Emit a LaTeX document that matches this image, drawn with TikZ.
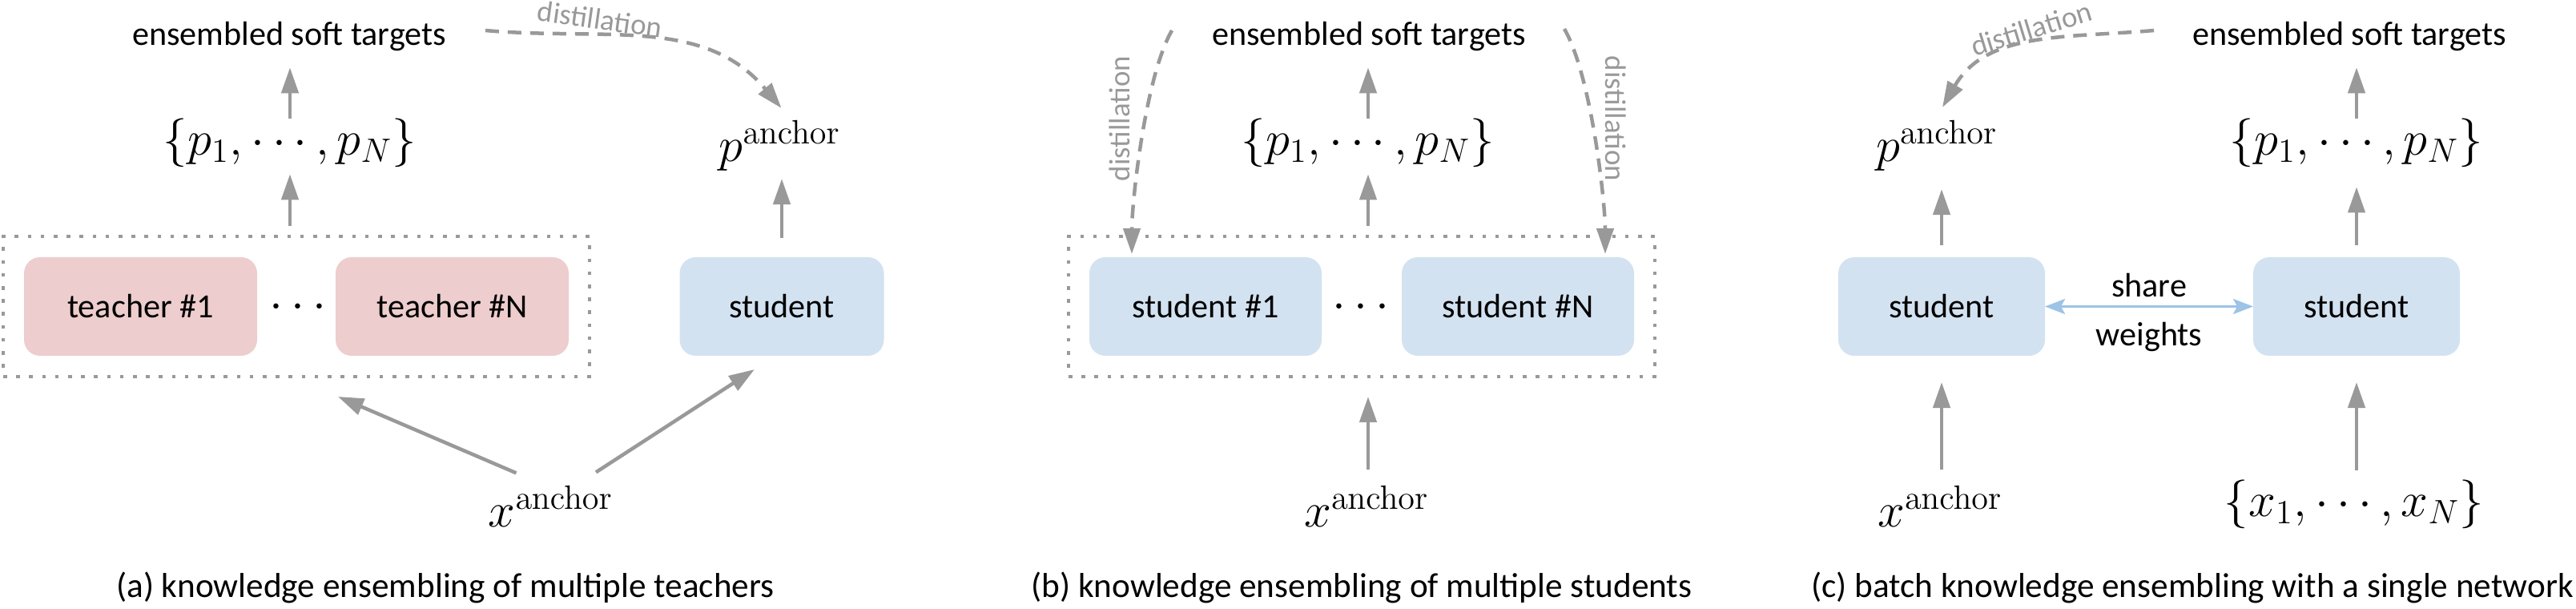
\documentclass[tikz,border=0pt]{standalone}
\usepackage[no-math]{fontspec}
\newfontfamily\calibri{Carlito}
\usetikzlibrary{arrows.meta,calc,fit}
\definecolor{teacherpink}{HTML}{EDCDCD}
\definecolor{studentblue}{HTML}{D3E2F0}
\definecolor{arrowgray}{HTML}{999999}
\definecolor{shareblue}{HTML}{9DC3E6}

\begin{document}
\begin{tikzpicture}[
    every node/.style={inner sep=0pt, outer sep=0pt},
    txt/.style={font=\calibri\fontsize{12}{14}\selectfont},
    captxt/.style={font=\calibri\fontsize{12.3}{14}\selectfont},
    mth/.style={font=\fontsize{17.28}{20}\selectfont},
    dist/.style={font=\calibri\fontsize{10.5}{12}\selectfont, text=arrowgray},
    teacher/.style={txt, fill=teacherpink, rounded corners=0.2cm, minimum width=2.91cm, minimum height=1.23cm},
    student/.style={txt, fill=studentblue, rounded corners=0.2cm, minimum height=1.23cm},
    group/.style={draw=arrowgray, line width=0.045cm, dash pattern=on 0.045cm off 0.117cm, inner sep=0.26cm},
    arr/.style={draw=arrowgray, line width=0.045cm, -{Triangle[length=0.32cm,width=0.21cm]}},
    darr/.style={arr, dash pattern=on 0.17cm off 0.11cm},
    share/.style={draw=shareblue, line width=0.03cm, {Stealth[length=0.25cm,width=0.19cm,inset=0.05cm]}-{Stealth[length=0.25cm,width=0.19cm,inset=0.05cm]}}
  ]
  \useasboundingbox (0,0) rectangle (32.16,7.59);

  % (a)
  \node[txt] (ensA) at (3.61,7.14) {ensembled soft targets};
  \node[mth] (pA) at (3.62,5.81) {$\{p_1,\cdots,p_N\}$};
  \node[teacher] (t1) at (1.755,3.765) {teacher \#1};
  \node[mth] (dotsA) at (3.72,3.75) {$\cdots$};
  \node[teacher] (tN) at (5.645,3.765) {teacher \#N};
  \node[group, fit=(t1)(tN)] (boxA) {};
  \node[student, minimum width=2.55cm] (sA) at (9.76,3.765) {student};
  \node[mth] (paA) at (9.735,5.775) {$p^{\mathrm{anchor}}$};
  \node[mth] (xA) at (6.875,1.27) {$x^{\mathrm{anchor}}$};
  \node[dist, rotate=-8] (distA) at (7.49,7.35) {distillation};
  \node[captxt] (capA) at (5.56,0.26) {(a) knowledge ensembling of multiple teachers};

  \draw[arr, shorten <=0.13cm, shorten >=0.09cm] (pA |- boxA.north) -- (pA.south);
  \draw[arr, shorten >=0.21cm] (pA.north) -- (pA.north |- ensA.south);
  \draw[arr, shorten <=0.24cm, shorten >=0.10cm] (sA.north) -- (sA.north |- paA.south);
  \draw[arr] ($(xA.north)+(-0.43,0.16)$) -- ($(boxA.south)+(0.52,-0.25)$);
  \draw[arr] ($(xA.north)+(0.565,0.17)$) -- ($(sA.south)+(-0.34,-0.17)$);
  \draw[darr] ($(ensA.east)+(0.49,0.07)$) to[out=-5,in=130] ($(paA.north)+(0.02,0.15)$);

  % (b)
  \node[txt] (ensB) at (17.09,7.14) {ensembled soft targets};
  \node[mth] (pB) at (17.08,5.81) {$\{p_1,\cdots,p_N\}$};
  \node[student, minimum width=2.9cm] (s1) at (15.05,3.765) {student \#1};
  \node[mth] (dotsB) at (16.99,3.75) {$\cdots$};
  \node[student, minimum width=2.9cm] (sN) at (18.95,3.765) {student \#N};
  \node[group, fit=(s1)(sN)] (boxB) {};
  \node[mth] (xB) at (17.06,1.27) {$x^{\mathrm{anchor}}$};
  \node[dist, rotate=90] (distB1) at (13.98,6.11) {distillation};
  \node[dist, rotate=-90] (distB2) at (20.17,6.11) {distillation};
  \node[captxt] (capB) at (17.00,0.26) {(b) knowledge ensembling of multiple students};

  \draw[arr, shorten <=0.13cm, shorten >=0.09cm] (pB |- boxB.north) -- (pB.south);
  \draw[arr, shorten >=0.21cm] (pB.north) -- (pB.north |- ensB.south);
  \draw[arr, shorten <=0.20cm, shorten >=0.25cm] (pB |- xB.north) -- (pB |- boxB.south);
  \draw[darr, shorten >=0.04cm] ($(ensB.west)+(-0.50,0.07)$) to[out=240,in=90,looseness=0.6] ($(s1.north west)+(0.53,0)$);
  \draw[darr, shorten >=0.04cm] ($(ensB.east)+(0.48,0.09)$) to[out=-60,in=90,looseness=0.6] ($(sN.north east)+(-0.36,0)$);

  % (c)
  \node[txt] (ensC) at (29.33,7.14) {ensembled soft targets};
  \node[mth] (pC) at (29.42,5.81) {$\{p_1,\cdots,p_N\}$};
  \node[mth] (paC) at (24.18,5.775) {$p^{\mathrm{anchor}}$};
  \node[student, minimum width=2.58cm] (sL) at (24.24,3.765) {student};
  \node[student, minimum width=2.58cm] (sR) at (29.42,3.765) {student};
  \node[mth] (xC) at (24.22,1.27) {$x^{\mathrm{anchor}}$};
  \node[mth] (xsC) at (29.39,1.30) {$\{x_1,\cdots,x_N\}$};
  \node[dist, rotate=17] (distC) at (25.36,7.23) {distillation};
  \node[captxt] (capC) at (27.37,0.26) {(c) batch knowledge ensembling with a single network};

  \draw[arr, shorten <=0.15cm, shorten >=0.23cm] (sL.north) -- (sL.north |- paC.south);
  \draw[arr, shorten <=0.15cm, shorten >=0.25cm] (sR.north) -- (sR.north |- pC.south);
  \draw[arr, shorten >=0.21cm] (pC.north) -- (pC.north |- ensC.south);
  \draw[arr, shorten <=0.20cm, shorten >=0.33cm] (sL.south |- xC.north) -- (sL.south);
  \draw[arr, shorten <=0.12cm, shorten >=0.33cm] (sR.south |- xsC.north) -- (sR.south);
  \draw[share] (sL.east) -- node[txt, above=0.12cm] (shareC) {share} node[txt, below=0.2cm] (weightsC) {weights} (sR.west);
  \draw[darr] ($(ensC.west)+(-0.48,0.07)$) to[out=185,in=60] ($(paC.north)+(0.07,0.16)$);
\end{tikzpicture}
\end{document}
